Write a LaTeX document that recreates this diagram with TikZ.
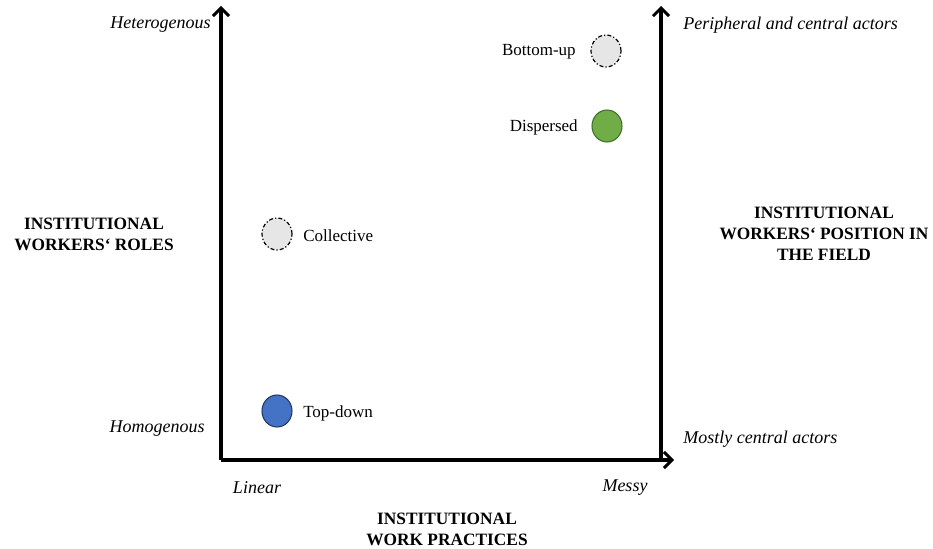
\documentclass[tikz,border=0pt]{standalone}
\usepackage{fontspec}
\setmainfont{Liberation Serif}
\usetikzlibrary{arrows.meta,shapes.geometric}
\definecolor{cgreen}{HTML}{70AD47}
\definecolor{cgreenb}{HTML}{41702A}
\definecolor{cblue}{HTML}{4472C4}
\definecolor{cblueb}{HTML}{203864}
\definecolor{cgrey}{HTML}{E7E6E6}
\newlength{\pxu}\setlength{\pxu}{0.75pt}
\tikzset{
  axis/.style={line width=2.4pt,-{Straight Barb[length=6pt,width=12pt,line width=2.2pt]}},
  lbl/.style={font=\fontsize{12.75}{15}\selectfont, inner sep=0pt},
  ilbl/.style={font=\fontsize{13.5}{15}\selectfont\itshape, inner sep=0pt},
  blbl/.style={font=\fontsize{13}{15.6}\selectfont\bfseries, align=center, inner sep=0pt},
  dot/.style={ellipse, minimum width=30\pxu, minimum height=32\pxu, inner sep=0pt, line width=0.8pt},
  dotdash/.style={draw=black, line width=0.9pt, dash pattern=on 3pt off 1.6pt on 0.9pt off 1.6pt},
}
\begin{document}
\begin{tikzpicture}[x=0.75pt,y=-0.75pt]
\useasboundingbox (0,0) rectangle (933,549);
\coordinate (o) at (221,460);
\coordinate (ytop) at (221,6);
\coordinate (xend) at (674,460);
\coordinate (ro) at (661,460);
\coordinate (rtop) at (661,6);
\draw[axis] (o) -- (ytop);
\draw[axis] (o) -- (xend);
\draw[axis] (ro) -- (rtop);

\node[ilbl, anchor=east] (het) at (211,25) {Heterogenous};
\node[ilbl, anchor=east] (hom) at (205,429) {Homogenous};
\node[ilbl] (lin) at (257,488) {Linear};
\node[ilbl] (mes) at (625,488) {Messy};
\node[ilbl, anchor=west] (per) at (683,25) {Peripheral and central actors};
\node[ilbl, anchor=west] (mca) at (683,439) {Mostly central actors};

\node[blbl] (roles) at (94,234) {INSTITUTIONAL\\WORKERS‘ ROLES};
\node[blbl] (pos) at (824,234) {INSTITUTIONAL\\WORKERS‘ POSITION IN\\THE FIELD};
\node[blbl] (prac) at (447,529) {INSTITUTIONAL\\WORK PRACTICES};

\node[dot, fill=cgrey, dotdash] (bu) at (606,51) {};
\node[dot, fill=cgreen, draw=cgreenb] (di) at (607,126) {};
\node[dot, fill=cgrey, dotdash] (co) at (277,234) {};
\node[dot, fill=cblue, draw=cblueb] (td) at (277,411) {};

\node[lbl, anchor=east] (bul) at (576,52) {Bottom-up};
\node[lbl, anchor=east] (dil) at (578,127) {Dispersed};
\node[lbl, anchor=west] (col) at (303,236) {Collective};
\node[lbl, anchor=west] (tdl) at (303,413) {Top-down};
\end{tikzpicture}
\end{document}
